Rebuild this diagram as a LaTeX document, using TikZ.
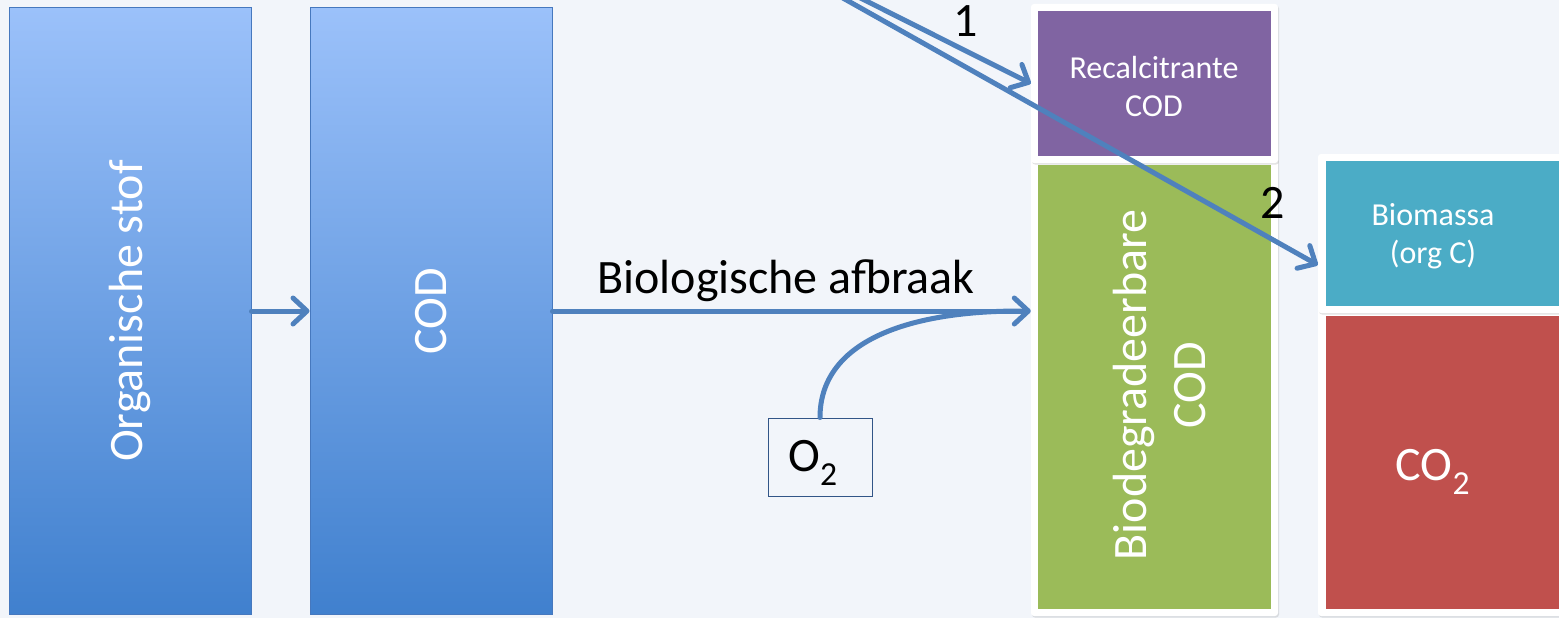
\documentclass[tikz,border=0pt]{standalone}
\usepackage{fontspec}
\setmainfont{Carlito}
\usetikzlibrary{arrows.meta,shadows}
\definecolor{bg}{RGB}{242,245,250}
\definecolor{arrblue}{RGB}{79,129,189}
\definecolor{boxline}{RGB}{70,120,190}
\definecolor{btop}{RGB}{155,193,250}
\definecolor{bbot}{RGB}{64,128,206}
\definecolor{purp}{RGB}{128,100,162}
\definecolor{grn}{RGB}{155,187,89}
\definecolor{teal}{RGB}{75,172,198}
\definecolor{redb}{RGB}{192,80,77}
\definecolor{o2line}{RGB}{50,85,135}
\tikzset{
  bigfont/.style={font=\fontsize{48}{59}\selectfont},
  midfont/.style={font=\fontsize{32}{38}\selectfont},
  bluebox/.style={draw=boxline, line width=1pt, top color=btop, bottom color=bbot,
    minimum width=242, minimum height=607, inner sep=0pt},
  wframe/.style={fill=white, rounded corners=3pt, inner sep=0pt,
    drop shadow={opacity=0.22, shadow xshift=1pt, shadow yshift=-1.5pt}},
  inbox/.style={inner sep=0pt},
  arrline/.style={draw=arrblue, line width=5pt, line cap=round},
  arr/.style={arrline, -{Straight Barb[length=14pt, width=26pt, line width=5pt, round]}},
  wtxt/.style={text=white, align=center, inner sep=0pt},
  btxt/.style={text=black, align=center, inner sep=0pt},
}
\begin{document}
\begin{tikzpicture}[x=1pt, y=-1pt]
\useasboundingbox (0,0) rectangle (1559,618);
\clip (0,0) rectangle (1559,618);
\fill[bg] (0,0) rectangle (1559,618);

% blue boxes
\node[bluebox] (org) at (130,311) {};
\node[bigfont, wtxt, rotate=90] (orgt) at (org.center) {Organische stof};
\node[bluebox] (cod) at (431,311) {};
\node[bigfont, wtxt, rotate=90] (codt) at (cod.center) {COD};

% right column frames
\node[wframe, minimum width=247, minimum height=458] (gframe) at (1154.5,387) {};
\node[inbox, fill=grn, minimum width=233, minimum height=444] (ginner) at (1154.5,387) {};
\node[bigfont, wtxt, rotate=90] (gt) at (1159,385) {Biodegradeerbare\\COD};

\node[wframe, minimum width=247, minimum height=159] (pframe) at (1154.5,83.5) {};
\node[inbox, fill=purp, minimum width=233, minimum height=145] (pinner) at (1154.5,83.5) {};
\node[midfont, wtxt] (pt) at (1154,86) {Recalcitrante\\COD};

\node[wframe, minimum width=261, minimum height=307] (rframe) at (1448.5,462.5) {};
\node[inbox, fill=redb, minimum width=246, minimum height=293] (rinner) at (1449,462.5) {};
\node[bigfont, wtxt] (rt) at (1433,472) {CO\textsubscript{2}};

\node[wframe, minimum width=261, minimum height=159] (bframe) at (1448.5,233.5) {};
\node[inbox, fill=teal, minimum width=246, minimum height=145] (binner) at (1449,233.5) {};
\node[midfont, wtxt] (bt) at (1433,236) {Biomassa\\(org C)};

% O2 box
\node[draw=o2line, line width=1pt, minimum width=104, minimum height=78, inner sep=0pt] (o2) at (820,457) {};
\node[bigfont, btxt] (o2t) at (813,463) {O\textsubscript{2}};

% connectors
\draw[arr] (org.east) -- (cod.west);
\coordinate (gin) at (cod.east -| gframe.west);
\draw[arr] (cod.east) -- (gin);
\node[bigfont, btxt] (afb) at (786,281) {Biologische afbraak};
\draw[arrline] (o2.north) .. controls +(0,-75) and (905,311) .. ([xshift=-10pt]gin);

\coordinate (src) at (697,-84);
\coordinate (t2) at ([yshift=-31.5pt]bframe.west);
\draw[arr] (src) -- (pframe.west);
\draw[arr] (src) -- (t2);

\node[bigfont, btxt] (n1) at (966,21) {1};
\node[bigfont, btxt] (n2) at (1273,203) {2};
\end{tikzpicture}
\end{document}
